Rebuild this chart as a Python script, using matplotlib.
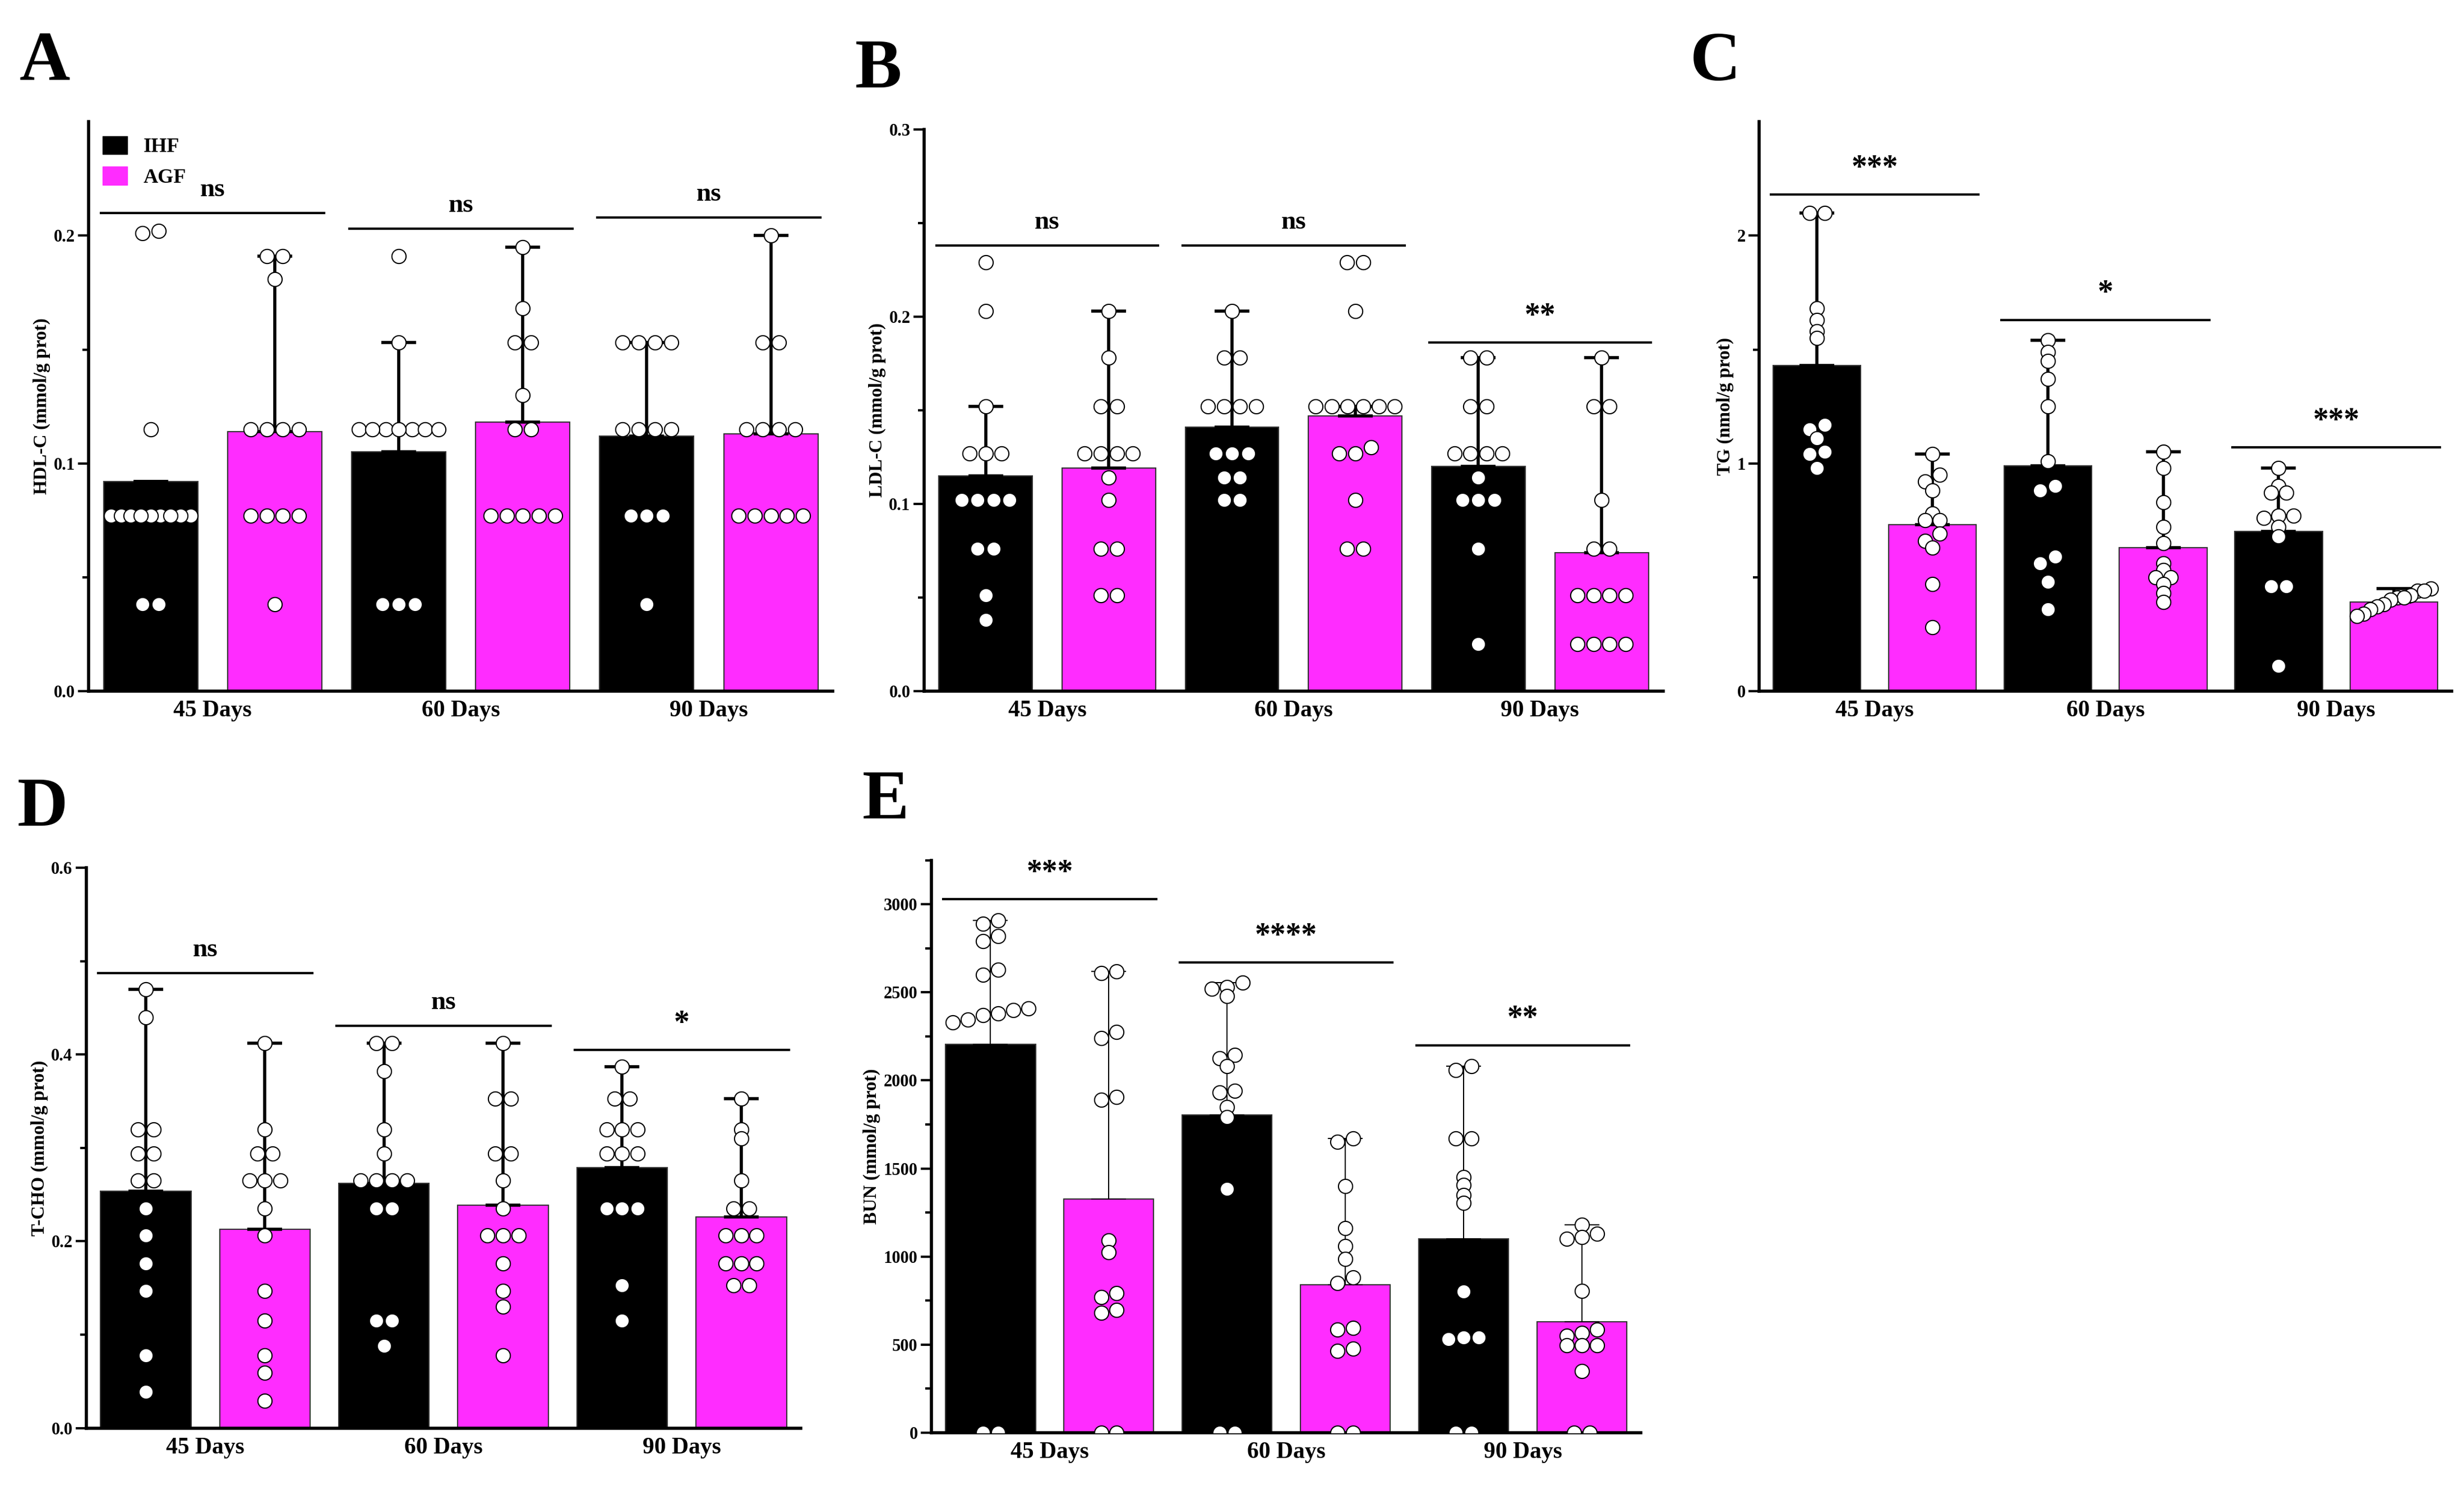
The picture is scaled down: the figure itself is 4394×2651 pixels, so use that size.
import matplotlib.pyplot as plt
import numpy as np

plt.rcParams["font.family"] = "Liberation Serif"
plt.rcParams["font.weight"] = "bold"

days = ["45 Days", "60 Days", "90 Days"]
groups = ["IHF", "AGF"]
colors = ["#000000", "#ff2cff"]

# panel A: HDL-C
hdl_means = [0.092, 0.114, 0.105, 0.118, 0.112, 0.113]
hdl_tops = [0.092, 0.191, 0.153, 0.195, 0.153, 0.200]
hdl_points = [
    [0.202, 0.201, 0.115] + [0.077] * 9 + [0.038] * 2,
    [0.191, 0.191, 0.181] + [0.115] * 4 + [0.077] * 4 + [0.038],
    [0.191, 0.153] + [0.115] * 7 + [0.038] * 3,
    [0.195, 0.168, 0.153, 0.153, 0.130, 0.115, 0.115] + [0.077] * 5,
    [0.153] * 4 + [0.115] * 4 + [0.077] * 3 + [0.038],
    [0.200, 0.153, 0.153] + [0.115] * 4 + [0.077] * 5,
]
hdl_sig = ["ns", "ns", "ns"]
hdl_sig_y = [0.210, 0.203, 0.208]

# panel B: LDL-C
ldl_means = [0.115, 0.119, 0.141, 0.147, 0.120, 0.074]
ldl_tops = [0.152, 0.203, 0.203, 0.152, 0.178, 0.178]
ldl_points = [
    [0.229, 0.203, 0.152] + [0.127] * 3 + [0.102] * 4 + [0.076] * 2 + [0.051, 0.038],
    [0.203, 0.178, 0.152, 0.152] + [0.127] * 4 + [0.114, 0.102, 0.076, 0.076, 0.051, 0.051],
    [0.203, 0.178, 0.178] + [0.152] * 4 + [0.127] * 3 + [0.114] * 2 + [0.102] * 2,
    [0.229, 0.229, 0.203] + [0.152] * 6 + [0.130, 0.127, 0.127, 0.102, 0.076, 0.076],
    [0.178, 0.178, 0.152, 0.152] + [0.127] * 4 + [0.114] + [0.102] * 3 + [0.076, 0.025],
    [0.178, 0.152, 0.152, 0.102, 0.076, 0.076] + [0.051] * 4 + [0.025] * 4,
]
ldl_sig = ["ns", "ns", "**"]
ldl_sig_y = [0.238, 0.238, 0.186]

# panel C: TG
tg_means = [1.43, 0.73, 0.99, 0.63, 0.70, 0.39]
tg_tops = [2.10, 1.04, 1.54, 1.05, 0.98, 0.45]
tg_points = [
    [2.10, 2.10, 1.68, 1.63, 1.58, 1.55, 1.17, 1.15, 1.11, 1.05, 1.04, 0.98],
    [1.04, 0.95, 0.92, 0.88, 0.78, 0.75, 0.75, 0.69, 0.66, 0.63, 0.47, 0.28],
    [1.54, 1.49, 1.45, 1.37, 1.25, 1.01, 0.90, 0.88, 0.59, 0.56, 0.48, 0.36],
    [1.05, 0.98, 0.83, 0.72, 0.65, 0.56, 0.53, 0.50, 0.50, 0.47, 0.43, 0.39],
    [0.98, 0.90, 0.87, 0.87, 0.77, 0.77, 0.76, 0.72, 0.68, 0.46, 0.46, 0.11],
    [0.45, 0.44, 0.44, 0.42, 0.41, 0.41, 0.40, 0.38, 0.37, 0.36, 0.34, 0.33],
]
tg_sig = ["***", "*", "***"]
tg_sig_y = [2.18, 1.63, 1.07]

# panel D: T-CHO
tcho_means = [0.254, 0.213, 0.262, 0.239, 0.279, 0.226]
tcho_tops = [0.470, 0.412, 0.412, 0.412, 0.387, 0.353]
tcho_points = [
    [0.470, 0.440, 0.320, 0.320, 0.294, 0.294, 0.265, 0.265, 0.235, 0.206, 0.176, 0.147, 0.078, 0.039],
    [0.412, 0.320, 0.294, 0.294, 0.265, 0.265, 0.265, 0.235, 0.206, 0.147, 0.115, 0.078, 0.059, 0.029],
    [0.412, 0.412, 0.382, 0.320, 0.294, 0.265, 0.265, 0.265, 0.265, 0.235, 0.235, 0.115, 0.115, 0.088],
    [0.412, 0.353, 0.353, 0.294, 0.294, 0.265, 0.235, 0.206, 0.206, 0.206, 0.176, 0.147, 0.130, 0.078],
    [0.387, 0.353, 0.353, 0.320, 0.320, 0.320, 0.294, 0.294, 0.294, 0.235, 0.235, 0.235, 0.153, 0.115],
    [0.353, 0.320, 0.310, 0.265, 0.235, 0.235, 0.206, 0.206, 0.206, 0.176, 0.176, 0.176, 0.153, 0.153],
]
tcho_sig = ["ns", "ns", "*"]
tcho_sig_y = [0.487, 0.431, 0.405]

# panel E: BUN
bun_means = [2205, 1325, 1805, 840, 1100, 630]
bun_tops = [2910, 2620, 2555, 1670, 2080, 1180]
bun_points = [
    [2910, 2890, 2820, 2790, 2630, 2600, 2410, 2400, 2380, 2370, 2345, 2330, 0, 0],
    [2620, 2610, 2275, 2240, 1905, 1890, 1090, 1025, 790, 770, 695, 680, 0, 0],
    [2555, 2530, 2520, 2480, 2145, 2125, 2080, 1940, 1930, 1850, 1790, 1385, 0, 0],
    [1670, 1650, 1400, 1160, 1060, 985, 880, 850, 595, 585, 475, 465, 0, 0],
    [2080, 2060, 1670, 1670, 1450, 1405, 1350, 1305, 800, 540, 540, 530, 0, 0],
    [1180, 1130, 1110, 1100, 805, 585, 565, 550, 495, 495, 495, 350, 0, 0],
]
bun_sig = ["***", "****", "**"]
bun_sig_y = [3030, 2670, 2200]


def spread(vals, tol):
    """Horizontal offsets so near-equal values sit side by side."""
    vals = np.asarray(vals, dtype=float)
    order = np.argsort(vals)
    offs = np.zeros(len(vals))
    clusters, cur = [], [order[0]]
    for i in order[1:]:
        if vals[i] - vals[cur[-1]] <= tol:
            cur.append(i)
        else:
            clusters.append(cur)
            cur = [i]
    clusters.append(cur)
    for c in clusters:
        n = len(c)
        step = min(0.13, 0.64 / max(n - 1, 1))
        for k, i in enumerate(c):
            offs[i] = (k - (n - 1) / 2) * step
    return offs


def panel(rect, letter, means, tops, points, sig, sig_y, ylim, ticks, minor,
          fmt, ylabel, thin=False, legend=False):
    ax = fig.add_axes(rect)
    x = np.arange(6)
    ax.bar(x, means, width=0.76, color=[colors[i % 2] for i in range(6)],
           edgecolor="#333333", linewidth=1.5, zorder=1)
    lw = 1.5 if thin else 4
    for i in range(6):
        ax.errorbar(x[i], means[i], yerr=[[0], [tops[i] - means[i]]], fmt="none",
                    ecolor="black", elinewidth=lw, capsize=22, capthick=lw, zorder=2)
        offs = spread(points[i], ylim[1] * 0.012)
        ax.scatter(x[i] + offs, points[i], s=330, facecolor="white",
                   edgecolor="black", linewidth=1.5, zorder=3)
    for j in range(3):
        ax.plot([2 * j - 0.4, 2 * j + 1.4], [sig_y[j], sig_y[j]], color="black", lw=3)
        ax.text(2 * j + 0.5, sig_y[j] + ylim[1] * 0.02, sig[j], ha="center",
                va="bottom", fontsize=34 if sig[j] == "ns" else 40, fontweight="bold")
    ax.set_xlim(-0.5, 5.5)
    ax.set_ylim(*ylim)
    ax.set_yticks(ticks)
    ax.set_yticklabels([fmt.format(t) for t in ticks], fontsize=22)
    ax.set_yticks(minor, minor=True)
    ax.set_xticks([0.5, 2.5, 4.5])
    ax.set_xticklabels(days, fontsize=30, fontweight="bold")
    ax.set_ylabel(ylabel, fontsize=24, fontweight="bold")
    for s in ["top", "right"]:
        ax.spines[s].set_visible(False)
    for s in ["left", "bottom"]:
        ax.spines[s].set_linewidth(4)
    ax.tick_params(axis="both", which="major", width=3, length=14)
    ax.tick_params(axis="y", which="minor", width=3, length=8)
    ax.tick_params(axis="x", length=0, pad=12)
    if legend:
        from matplotlib.patches import Patch
        handles = [Patch(color=c, label=g) for c, g in zip(colors, groups)]
        ax.legend(handles=handles, loc="upper left", frameon=False, fontsize=26,
                  handlelength=1.2, handleheight=1.0, borderaxespad=0.3)
    fig.text(rect[0] - 0.028, rect[1] + rect[3] + 0.018, letter, fontsize=90,
             fontweight="bold", va="bottom")
    return ax


fig = plt.figure(figsize=(43.94, 26.51), dpi=100)
panel([0.036, 0.535, 0.302, 0.383], "A", hdl_means, hdl_tops, hdl_points,
      hdl_sig, hdl_sig_y, (0, 0.25), [0.0, 0.1, 0.2], [0.05, 0.15], "{:.1f}",
      "HDL-C (mmol/g prot)", legend=True)
panel([0.375, 0.535, 0.300, 0.378], "B", ldl_means, ldl_tops, ldl_points,
      ldl_sig, ldl_sig_y, (0, 0.3), [0.0, 0.1, 0.2, 0.3], [0.05, 0.15, 0.25],
      "{:.1f}", "LDL-C (mmol/g prot)")
panel([0.714, 0.535, 0.281, 0.383], "C", tg_means, tg_tops, tg_points,
      tg_sig, tg_sig_y, (0, 2.5), [0, 1, 2], [0.5, 1.5], "{:.0f}",
      "TG (nmol/g prot)")
panel([0.035, 0.039, 0.290, 0.377], "D", tcho_means, tcho_tops, tcho_points,
      tcho_sig, tcho_sig_y, (0, 0.6), [0.0, 0.2, 0.4, 0.6], [0.1, 0.3, 0.5],
      "{:.1f}", "T-CHO (mmol/g prot)")
panel([0.378, 0.036, 0.288, 0.385], "E", bun_means, bun_tops, bun_points,
      bun_sig, bun_sig_y, (0, 3250), list(range(0, 3001, 500)),
      list(range(250, 3251, 500)), "{:.0f}", "BUN (mmol/g prot)", thin=True)

fig.savefig("out.png", dpi=100)
